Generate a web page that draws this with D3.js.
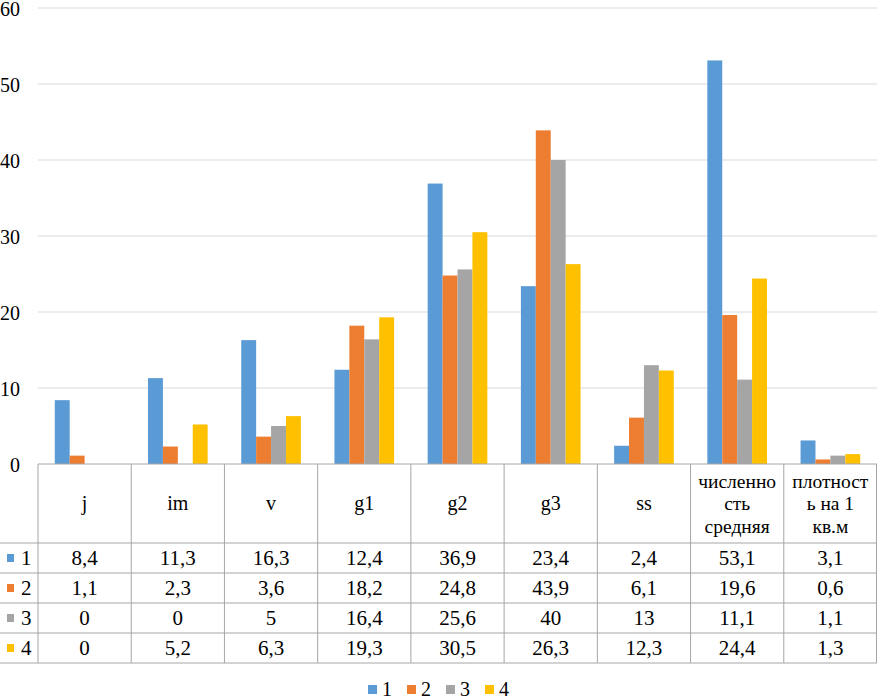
<!DOCTYPE html>
<html>
<head>
<meta charset="utf-8">
<script src="https://cdn.jsdelivr.net/npm/d3@7"></script>
<style>
  body { margin: 0; }
  svg text, svg tspan { font-family: "Liberation Serif" !important; }
</style>
</head>
<body>
<script>
const categories = ["j", "im", "v", "g1", "g2", "g3", "ss", "численно|сть|средняя", "плотност|ь на 1|кв.м"];
const seriesNames = ["1", "2", "3", "4"];
const s1 = [8.4, 11.3, 16.3, 12.4, 36.9, 23.4, 2.4, 53.1, 3.1];
const s2 = [1.1, 2.3, 3.6, 18.2, 24.8, 43.9, 6.1, 19.6, 0.6];
const s3 = [0, 0, 5, 16.4, 25.6, 40, 13, 11.1, 1.1];
const s4 = [0, 5.2, 6.3, 19.3, 30.5, 26.3, 12.3, 24.4, 1.3];
const series = [s1, s2, s3, s4];
const yTicks = [0, 10, 20, 30, 40, 50, 60];
const colors = ["#5B9BD5", "#ED7D31", "#A5A5A5", "#FFC000"];

const width = 877, height = 699;
const plotLeft = 38, plotRight = 877, plotTop = 8, base = 464;
const headerH = 79, rowH = 30;
const border = "#a6a6a6";
const serif = "Liberation Serif";

const svg = d3.select("body").append("svg")
  .attr("width", width).attr("height", height)
  .attr("font-family", serif);

const x0 = d3.scaleBand().domain(d3.range(categories.length)).range([plotLeft, plotRight]);
const bw = x0.bandwidth();
const x1 = d3.scaleBand().domain(d3.range(series.length)).range([bw * 0.18, bw * 0.82]);
const y = d3.scaleLinear().domain([0, 60]).range([base, plotTop]);

// grid
svg.append("g").selectAll("line").data(yTicks.slice(1)).enter().append("line")
  .attr("x1", plotLeft).attr("x2", plotRight)
  .attr("y1", d => y(d)).attr("y2", d => y(d))
  .attr("stroke", "#d9d9d9").attr("stroke-width", 1);

// y labels
const yAxis = d3.axisLeft(y).tickValues(yTicks).tickSize(0).tickPadding(0);
const ya = svg.append("g").attr("transform", "translate(20,0)").call(yAxis)
  .attr("font-family", serif).attr("font-size", 20);
ya.select(".domain").remove();
ya.selectAll("text").attr("fill", "#000").attr("dy", "0.36em")
  .attr("font-family", serif).attr("font-size", 20)
  .style("font-family", serif).style("font-size", "20px");

// bars
series.forEach((s, si) => {
  svg.append("g").selectAll("rect").data(s).enter().append("rect")
    .attr("x", (d, i) => x0(i) + x1(si))
    .attr("width", x1.bandwidth())
    .attr("y", d => y(d))
    .attr("height", d => base - y(d))
    .attr("fill", colors[si]);
});

// table
const tbl = svg.append("g").attr("font-family", serif);
const tableBottom = base + headerH + rowH * series.length;
tbl.append("line").attr("x1", plotLeft).attr("x2", plotRight).attr("y1", base).attr("y2", base).attr("stroke", border);
for (let r = 0; r <= series.length; r++) {
  const yy = base + headerH + r * rowH;
  tbl.append("line").attr("x1", 0).attr("x2", plotRight).attr("y1", yy).attr("y2", yy).attr("stroke", border);
}
for (let c = 0; c <= categories.length; c++) {
  const xx = c === categories.length ? plotRight - 0.5 : x0(c);
  tbl.append("line").attr("x1", xx).attr("x2", xx).attr("y1", base).attr("y2", tableBottom).attr("stroke", border);
}

// header
categories.forEach((c, i) => {
  const lines = c.split("|");
  const cx = x0(i) + bw / 2;
  const lh = 22.5;
  const fs = lines.length > 1 ? 19.5 : 20;
  const t = tbl.append("text").attr("text-anchor", "middle").attr("fill", "#000")
    .attr("font-family", serif).attr("font-size", fs)
    .style("font-family", serif).style("font-size", fs + "px");
  lines.forEach((l, li) => {
    t.append("tspan").attr("x", cx)
      .attr("y", 510 + (li - (lines.length - 1) / 2) * lh)
      .text(l);
  });
});

const fmt = v => String(v).replace(".", ",");
series.forEach((s, si) => {
  const ry = base + headerH + si * rowH;
  tbl.append("rect").attr("x", 7).attr("y", ry + rowH / 2 - 4).attr("width", 7).attr("height", 8).attr("fill", colors[si]);
  tbl.append("text").attr("x", 21).attr("y", ry + rowH / 2 + 7)
    .attr("font-family", serif).attr("font-size", 21)
    .style("font-family", serif).style("font-size", "21px").text(seriesNames[si]);
  s.forEach((v, i) => {
    tbl.append("text").attr("x", x0(i) + bw / 2).attr("y", ry + rowH / 2 + 7)
      .attr("text-anchor", "middle").attr("font-family", serif).attr("font-size", 21)
      .style("font-family", serif).style("font-size", "21px").text(fmt(v));
  });
});

// legend
const leg = svg.append("g").attr("transform", "translate(368,683)");
seriesNames.forEach((n, i) => {
  const g = leg.append("g").attr("transform", `translate(${i * 39},0)`);
  g.append("rect").attr("x", 0).attr("y", 2).attr("width", 9).attr("height", 9).attr("fill", colors[i]);
  g.append("text").attr("x", 14).attr("y", 13).attr("font-family", serif).attr("font-size", 20)
    .style("font-family", serif).style("font-size", "20px").text(n);
});
</script>
</body>
</html>
